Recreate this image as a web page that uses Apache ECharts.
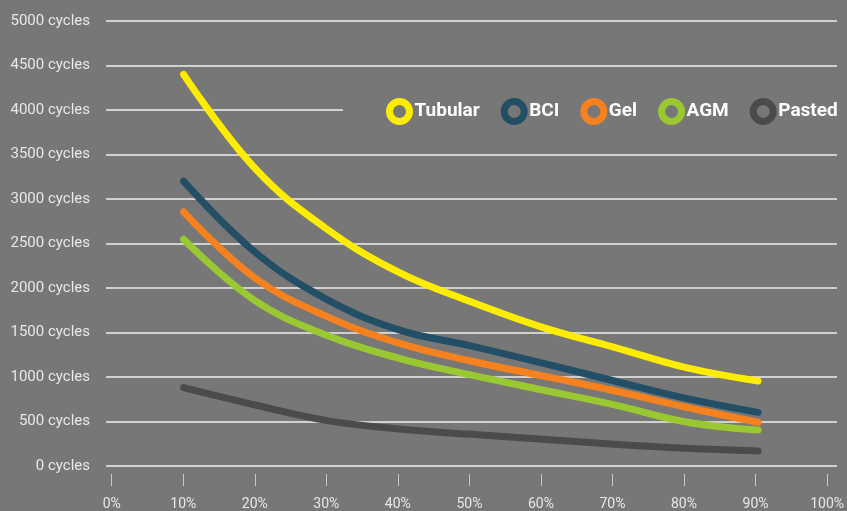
<!DOCTYPE html>
<html>
<head>
<meta charset="utf-8">
<script src="https://cdn.jsdelivr.net/npm/echarts@6/dist/echarts.min.js"></script>
<style>
html,body{margin:0;padding:0;background:#777777;}
#chart{width:847px;height:511px;}
</style>
</head>
<body>
<div id="chart"></div>
<script>
var depthOfDischarge = [10, 20, 30, 40, 50, 60, 70, 80, 90];
var tubular = [4400, 3340, 2660, 2175, 1846, 1558, 1334, 1105, 955];
var bci = [3200, 2400, 1870, 1530, 1350, 1157, 955, 760, 603];
var gel = [2855, 2110, 1678, 1380, 1180, 1013, 846, 660, 491];
var agm = [2547, 1855, 1466, 1210, 1023, 854, 687, 495, 404];
var pasted = [880, 685, 510, 415, 356, 300, 244, 199, 168];
var xTicks = [0, 10, 20, 30, 40, 50, 60, 70, 80, 90, 100];
var seriesNames = ['Tubular', 'BCI', 'Gel', 'AGM', 'Pasted'];
var seriesColors = ['#FFED00', '#234F66', '#F5821F', '#9AC832', '#4D4A4E'];
var seriesValues = [tubular, bci, gel, agm, pasted];

function pairs(vals) {
  return depthOfDischarge.map(function (x, i) { return [x, vals[i]]; });
}

var chart = echarts.init(document.getElementById('chart'));
chart.setOption({
  backgroundColor: '#777777',
  animation: false,
  textStyle: { fontFamily: 'Roboto' },
  grid: [
    { left: 106, right: 10, top: 21, bottom: 45, containLabel: false },
    { left: 106, right: 10, top: 21, bottom: 36, containLabel: false }
  ],
  legend: {
    left: 343,
    top: 94,
    padding: [4, 2, 4, 43],
    backgroundColor: '#777777',
    itemWidth: 20,
    itemHeight: 20,
    itemGap: 21,
    icon: 'circle',
    textStyle: { color: '#ffffff', fontSize: 19, fontWeight: 'bold', fontFamily: 'Roboto' },
    data: seriesNames.map(function (n, i) {
      return {
        name: n,
        icon: 'circle',
        itemStyle: { color: '#777777', borderColor: seriesColors[i], borderWidth: 7 }
      };
    })
  },
  xAxis: [
    {
      gridIndex: 0,
      type: 'value',
      min: -0.8,
      max: 101,
      show: false
    },
    {
      gridIndex: 1,
      type: 'value',
      min: -0.8,
      max: 101,
      axisLine: { show: false },
      splitLine: { show: false },
      axisTick: {
        show: true,
        length: 12,
        customValues: xTicks,
        lineStyle: { color: '#c8c8c8', width: 1 }
      },
      axisLabel: {
        customValues: xTicks,
        formatter: '{value}%',
        margin: 23,
        color: '#e8e8e8',
        fontSize: 14,
        fontFamily: 'Roboto'
      }
    }
  ],
  yAxis: [
    {
      gridIndex: 0,
      type: 'value',
      min: 0,
      max: 5000,
      interval: 500,
      axisLine: { show: false },
      axisTick: { show: false },
      axisLabel: {
        formatter: function (v) { return v + ' cycles'; },
        margin: 16,
        color: '#e8e8e8',
        fontSize: 15,
        fontFamily: 'Roboto'
      },
      splitLine: { lineStyle: { color: '#eeeeee', width: 1.5 } }
    },
    {
      gridIndex: 1,
      type: 'value',
      min: 0,
      max: 5000,
      show: false,
      splitLine: { show: false }
    }
  ],
  series: seriesNames.map(function (name, i) {
    return {
      name: name,
      type: 'line',
      xAxisIndex: 0,
      yAxisIndex: 0,
      smooth: 0.4,
      showSymbol: false,
      symbol: 'none',
      color: seriesColors[i],
      lineStyle: { width: 7, color: seriesColors[i], cap: 'round', join: 'round' },
      itemStyle: { color: '#777777', borderColor: seriesColors[i], borderWidth: 7 },
      z: 10 - i,
      data: pairs(seriesValues[i])
    };
  })
});
</script>
</body>
</html>
